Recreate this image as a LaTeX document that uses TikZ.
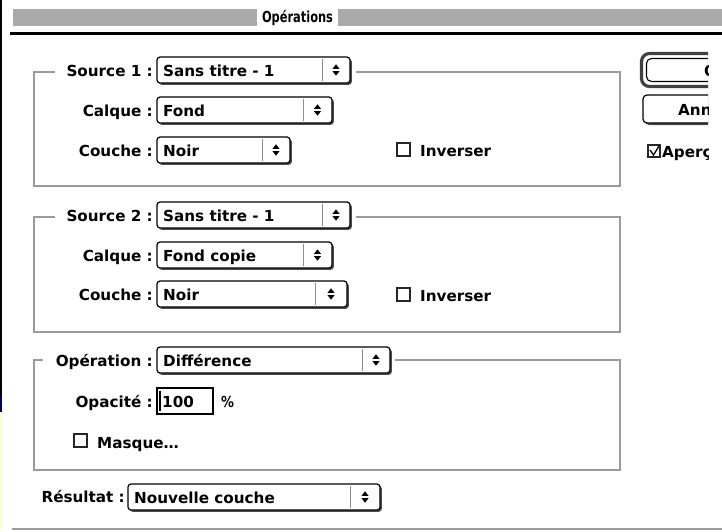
\documentclass[tikz,border=0pt]{standalone}
\usepackage{fontspec}
\setmainfont{DejaVu Sans}
\definecolor{framegray}{HTML}{9A9A9A}
\definecolor{titlegray}{HTML}{AAAAAA}
\newcommand\fs{\fontsize{15.2}{17}\selectfont\bfseries}
\newcommand\popupbox[7]{%
  \fill[black!70, rounded corners=3pt] (#2+1.8,#3+1.8) rectangle (#4+1.8,#5+1.8);
  \draw[fill=white, line width=1.2pt, rounded corners=3pt] (#2,#3) rectangle (#4,#5);
  \draw[black!45, line width=1pt] (#6,#3+2) -- (#6,#5-2);
  \fill ({(#6+#4)/2-3.5},{(#3+#5)/2-1.2}) -- ++(7,0) -- ++(-3.5,-4.5) -- cycle;
  \fill ({(#6+#4)/2-3.5},{(#3+#5)/2+1.2}) -- ++(7,0) -- ++(-3.5,4.5) -- cycle;
  \node[txt] (#1) at (#2+6,{(#3+#5)/2+6.5}) {#7};
}
\newcommand\chkbox[2]{%
  \draw[line width=1.3pt, black!85] (#1,#2) rectangle (#1+13,#2+13);
}
\begin{document}
\begin{tikzpicture}[x=1pt,y=-1pt,
  frame/.style={draw=framegray,line width=2pt},
  lbl/.style={font=\fs, anchor=base east, inner sep=0},
  txt/.style={font=\fs, anchor=base west, inner sep=0}]
\useasboundingbox[fill=white] (0,0) rectangle (722,531);
% left edge artefact
\draw[line width=2pt] (1,0) -- (1,396);
\draw[line width=2pt, blue!40!black] (1,396) -- (1,412);
\draw[line width=2pt, yellow!20!white] (1,412) -- (1,531);
% title bar
\fill[titlegray] (13,9) rectangle (257,26);
\fill[titlegray] (338,9) rectangle (722,26);
\node[inner sep=0, font=\fs] (title) at (297.5,17.5) {\scalebox{0.75}[1]{Opérations}};
\draw[line width=3pt] (10,33.5) -- (722,33.5);
% group frames
\draw[frame] (55,72) -- (34,72) -- (34,186) -- (620,186) -- (620,72) -- (356,72);
\draw[frame] (55,217) -- (34,217) -- (34,332) -- (620,332) -- (620,217) -- (356,217);
\draw[frame] (43,360) -- (34,360) -- (34,470) -- (620,470) -- (620,360) -- (395,360);
% group 1
\node[lbl] (ls1) at (153,76) {Source 1 :};
\popupbox{ps1}{157}{57}{350}{83}{322}{Sans titre - 1}
\node[lbl] (lc1) at (153,116) {Calque :};
\popupbox{pc1}{157}{97}{332}{123}{303}{Fond}
\node[lbl] (lk1) at (153,156) {Couche :};
\popupbox{pk1}{157}{137}{290}{163}{262}{Noir}
\chkbox{397}{143}
\node[txt] (inv1) at (420,156) {Inverser};
% group 2
\node[lbl] (ls2) at (153,221) {Source 2 :};
\popupbox{ps2}{157}{202}{350}{228}{322}{Sans titre - 1}
\node[lbl] (lc2) at (153,261) {Calque :};
\popupbox{pc2}{157}{242}{332}{268}{303}{Fond copie}
\node[lbl] (lk2) at (153,300) {Couche :};
\popupbox{pk2}{157}{281}{347}{307}{315}{Noir}
\chkbox{397}{288}
\node[txt] (inv2) at (420,301) {Inverser};
% group 3
\node[lbl] (lop) at (153,366) {Opération :};
\popupbox{pop}{157}{347}{390}{373}{362}{Différence}
\node[lbl] (lopa) at (153,407) {Opacité :};
\draw[line width=1.3pt] (157,388) rectangle (213,414);
\draw[line width=1.5pt] (160,391) -- (160,411);
\node[txt] (vopa) at (162,407) {100};
\node[txt] (pct) at (221,407) {\scalebox{0.85}[1]{\%}};
\chkbox{74}{434}
\node[txt] (msq) at (97,448) {Masque…};
% result
\node[lbl] (lres) at (125,502) {Résultat :};
\popupbox{pres}{128}{484}{380}{510}{350}{Nouvelle couche}
\draw[framegray, line width=1.5pt] (12,529) -- (722,529);
% right column (cut off at the screenshot edge)
\begin{scope}
\clip (0,0) rectangle (708,531);
\draw[line width=3.2pt, black!75, rounded corners=8pt] (641.5,53.5) rectangle (770,86.5);
\draw[line width=1.1pt, rounded corners=5pt] (646.5,58.5) rectangle (770,81.5);
\node[txt] (ok) at (704,76) {OK};
\fill[black!70, rounded corners=4pt] (645,97) rectangle (772,125);
\draw[fill=white, line width=1.2pt, rounded corners=4pt] (643,95) rectangle (770,123);
\node[txt] (ann) at (678,115) {Annuler};
\draw[line width=1.3pt, black!85] (648,145) rectangle (660,157);
\draw[line width=1.3pt] (650,150) -- (653.5,155) -- (659,146);
\node[txt] (apc) at (662,157) {Aperçu};
\end{scope}
\end{tikzpicture}
\end{document}
